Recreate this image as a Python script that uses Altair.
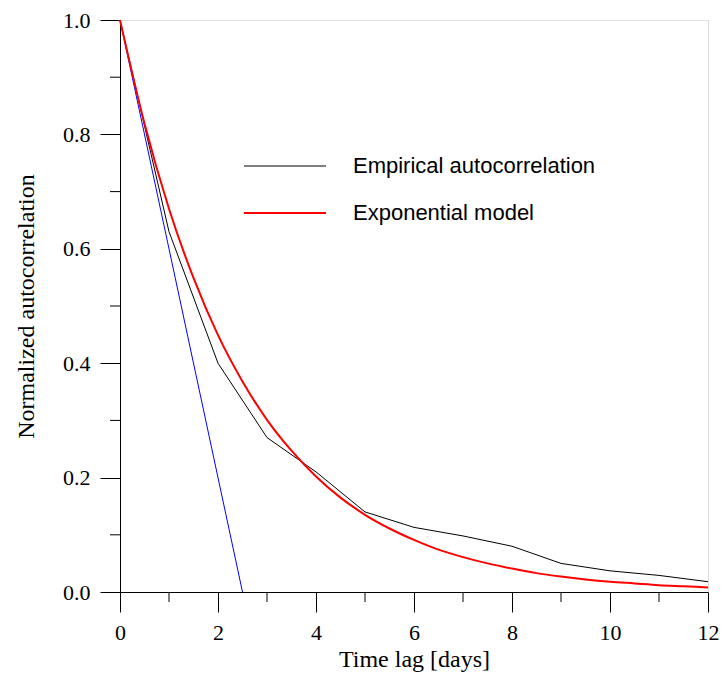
import altair as alt
import pandas as pd

# Empirical autocorrelation at integer lags (days)
emp_lag = [0, 1, 2, 3, 4, 5, 6, 7, 8, 9, 10, 11, 12]
emp_val = [1.0, 0.63, 0.40, 0.27, 0.21, 0.14, 0.113, 0.098, 0.08, 0.05, 0.037, 0.029, 0.018]

# Exponential model curve, every half day
mod_lag = [0, 0.5, 1, 1.5, 2, 2.5, 3, 3.5, 4, 4.5, 5, 5.5, 6, 6.5, 7, 7.5, 8,
           8.5, 9, 9.5, 10, 10.5, 11, 11.5, 12]
mod_val = [1.0, 0.819, 0.670, 0.549, 0.449, 0.368, 0.301, 0.247, 0.202, 0.165,
           0.135, 0.111, 0.091, 0.074, 0.061, 0.050, 0.041, 0.033, 0.027, 0.022,
           0.018, 0.015, 0.012, 0.010, 0.008]

# Initial tangent line
tan_lag = [0, 2.5]
tan_val = [1.0, 0.0]

# Axis ticks
x_major = [0, 2, 4, 6, 8, 10, 12]
x_minor = [1, 3, 5, 7, 9, 11]
y_major = [0.0, 0.2, 0.4, 0.6, 0.8, 1.0]
y_minor = [0.1, 0.3, 0.5, 0.7, 0.9]

series_names = ["Empirical autocorrelation", "Exponential model"]
series_colors = ["#000000", "#ff0000"]
series_widths = [1, 2]

W, H = 588, 572

emp = pd.DataFrame({"lag": emp_lag, "r": emp_val, "series": series_names[0]})
mod = pd.DataFrame({"lag": mod_lag, "r": mod_val, "series": series_names[1]})
tan = pd.DataFrame({"lag": tan_lag, "r": tan_val})

serif = "Liberation Serif"

x_axis = alt.Axis(
    values=x_major,
    format="d",
    grid=False,
    tickSize=20,
    tickColor="black",
    domainColor="black",
    labelFont=serif, labelFontSize=22, labelColor="black", labelPadding=10,
    labelFlush=False,
    title="Time lag [days]",
    titleFont=serif, titleFontSize=24, titleFontWeight="normal", titleColor="black",
    titlePadding=4,
)

y_axis = alt.Axis(
    values=y_major,
    format=".1f",
    grid=False,
    tickSize=20,
    tickColor="black",
    domainColor="black",
    labelFont=serif, labelFontSize=22, labelColor="black", labelPadding=10,
    labelFlush=False,
    title="Normalized autocorrelation",
    titleFont=serif, titleFontSize=24, titleFontWeight="normal", titleColor="black",
    titlePadding=24,
)

xs = alt.Scale(domain=[0, 12], nice=False, zero=False)
ys = alt.Scale(domain=[0, 1], nice=False)
cs = alt.Scale(domain=series_names, range=series_colors)
ws = alt.Scale(domain=series_names, range=series_widths)

legend = alt.Legend(
    title=None, orient="none", legendX=123, legendY=134,
    symbolType="stroke", symbolSize=6724, labelFont="Liberation Sans",
    labelFontSize=22, labelColor="black", labelOffset=26, clipHeight=24,
    rowPadding=23, padding=0, labelLimit=0,
)

emp_line = alt.Chart(emp).mark_line(interpolate="linear").encode(
    x=alt.X("lag:Q", scale=xs, axis=x_axis),
    y=alt.Y("r:Q", scale=ys, axis=y_axis),
    color=alt.Color("series:N", scale=cs, legend=legend),
    strokeWidth=alt.StrokeWidth("series:N", scale=ws, legend=legend),
)

mod_line = alt.Chart(mod).mark_line(interpolate="monotone").encode(
    x=alt.X("lag:Q", scale=xs),
    y=alt.Y("r:Q", scale=ys),
    color=alt.Color("series:N", scale=cs, legend=legend),
    strokeWidth=alt.StrokeWidth("series:N", scale=ws, legend=legend),
)

tangent = alt.Chart(tan).mark_line(color="#0000ff", strokeWidth=1).encode(
    x=alt.X("lag:Q", scale=xs),
    y=alt.Y("r:Q", scale=ys),
)

xminor = alt.Chart(pd.DataFrame({"t": x_minor})).mark_rule(color="black", strokeWidth=1).encode(
    x=alt.X("t:Q", scale=xs),
    y=alt.value(H),
    y2=alt.value(H + 10),
)

yminor = alt.Chart(pd.DataFrame({"v": y_minor})).mark_rule(color="black", strokeWidth=1).encode(
    y=alt.Y("v:Q", scale=ys),
    x=alt.value(0),
    x2=alt.value(-10),
)

chart = alt.layer(tangent, emp_line, mod_line, xminor, yminor).properties(
    width=W, height=H,
    autosize=alt.AutoSizeParams(type="none"),
    padding={"left": 112, "top": 12, "right": 12, "bottom": 80},
).configure_view(strokeWidth=0).configure(background="white")

chart.save("out.html", embed_options={"renderer": "svg", "actions": False})
